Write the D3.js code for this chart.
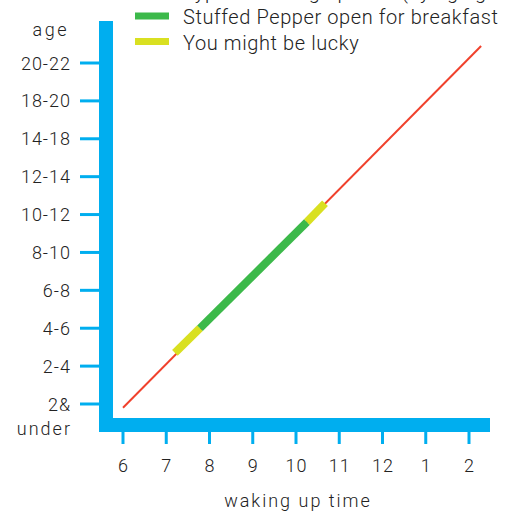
<!DOCTYPE html>
<html>
<head>
<meta charset="utf-8">
<script src="https://cdn.jsdelivr.net/npm/d3@7"></script>
<style>
  body { margin: 0; background: #fff; }
  text { font-family: Roboto, "Noto Sans", sans-serif; font-weight: 300; fill: #222; }
</style>
</head>
<body>
<div id="chart"></div>
<script>
// age categories, bottom to top
const ageLabels = ["2&", "2-4", "4-6", "6-8", "8-10", "10-12", "12-14", "14-18", "18-20", "20-22"];
// waking hours (24h) and their labels
const hourTicks = [6, 7, 8, 9, 10, 11, 12, 13, 14];
const hourLabels = ["6", "7", "8", "9", "10", "11", "12", "1", "2"];

// typical waking line: [hour, age index]
const wakeLine = [[6.0, -0.1], [14.28, 9.45]];
// breakfast windows along that line
const luckySegments = [
  [[7.2, 1.35], [7.78, 2.0]],
  [[10.25, 4.8], [10.67, 5.3]]
];
const openSegment = [[7.78, 2.0], [10.25, 4.8]];

const legendItems = [
  {label: "Typical waking up time (by age group)", color: "#f0412c", thin: true},
  {label: "Stuffed Pepper open for breakfast", color: "#3cb94a"},
  {label: "You might be lucky", color: "#d9e021"}
];

const width = 511, height = 512;
const blue = "#00aeef";

const svg = d3.select("#chart").append("svg")
    .attr("width", width)
    .attr("height", height);

const x = d3.scaleLinear().domain([6, 14]).range([123, 469]);
const y = d3.scaleLinear().domain([0, 9]).range([404, 63]);

const line = d3.line()
    .x((d) => x(d[0]))
    .y((d) => y(d[1]));

// axis bars
svg.append("rect").attr("x", 99).attr("y", 21).attr("width", 14).attr("height", 411).attr("fill", blue);
svg.append("rect").attr("x", 99).attr("y", 418).attr("width", 391).attr("height", 14).attr("fill", blue);

// y ticks + labels
const yt = svg.selectAll(".ytick").data(ageLabels).enter().append("g");
yt.append("line")
    .attr("x1", 80).attr("x2", 100)
    .attr("y1", (d, i) => y(i)).attr("y2", (d, i) => y(i))
    .attr("stroke", blue).attr("stroke-width", 3);
yt.append("text")
    .attr("x", 71).attr("y", (d, i) => y(i) + 6.5)
    .attr("text-anchor", "end")
    .style("font-size", "18px")
    .style("letter-spacing", "1px")
    .text((d) => d);
svg.append("text").attr("x", 72).attr("y", 435).attr("text-anchor", "end")
    .style("font-size", "18px").style("letter-spacing", "2px").text("under");
svg.append("text").attr("x", 69).attr("y", 36).attr("text-anchor", "end")
    .style("font-size", "18px").style("letter-spacing", "2.5px").text("age");

// x ticks + labels
const xt = svg.selectAll(".xtick").data(hourTicks).enter().append("g");
xt.append("line")
    .attr("x1", (d) => x(d)).attr("x2", (d) => x(d))
    .attr("y1", 431).attr("y2", 444)
    .attr("stroke", blue).attr("stroke-width", 3);
xt.append("text")
    .attr("x", (d) => x(d) + 0.5).attr("y", 472)
    .attr("text-anchor", "middle")
    .style("font-size", "18px")
    .style("letter-spacing", "1px")
    .text((d, i) => hourLabels[i]);
svg.append("text").attr("x", 298).attr("y", 507).attr("text-anchor", "middle")
    .style("font-size", "18px").style("letter-spacing", "2px").text("waking up time");

// lines
svg.append("path").attr("d", line(wakeLine))
    .attr("fill", "none").attr("stroke", "#f0412c").attr("stroke-width", 2);
luckySegments.forEach((s) => {
  svg.append("path").attr("d", line(s))
      .attr("fill", "none").attr("stroke", "#d9e021").attr("stroke-width", 8);
});
svg.append("path").attr("d", line(openSegment))
    .attr("fill", "none").attr("stroke", "#3cb94a").attr("stroke-width", 8);

// legend (first row runs off the top)
const lg = svg.selectAll(".legend").data(legendItems).enter().append("g")
    .attr("transform", (d, i) => "translate(0," + (i * 25.5 - 10) + ")");
lg.append("rect")
    .attr("x", 135).attr("y", (d) => d.thin ? 0 : -3)
    .attr("width", 34).attr("height", (d) => d.thin ? 2 : 7)
    .attr("fill", (d) => d.color);
lg.append("text")
    .attr("x", 183).attr("y", 8.5)
    .style("font-size", "20px")
    .style("letter-spacing", "0.6px")
    .text((d) => d.label);
</script>
</body>
</html>
